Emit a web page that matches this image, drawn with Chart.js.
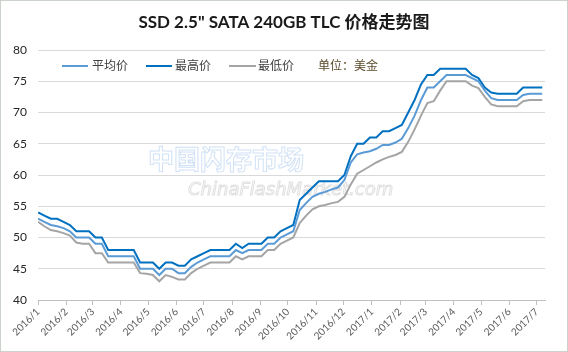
<!DOCTYPE html>
<html><head><meta charset="utf-8">
<script src="https://cdn.jsdelivr.net/npm/chart.js@4.4.1/dist/chart.umd.min.js"></script>
<style>
html,body{margin:0;padding:0;background:#fff;}
canvas{display:block;}
</style></head><body>
<canvas id="c" width="568" height="352"></canvas>
<script>
const titleText = 'SSD 2.5" SATA 240GB TLC 价格走势图';
const seriesNames = ['平均价', '最高价', '最低价'];
const unitText = '单位：美金';
const monthLabels = ['2016/1','2016/2','2016/3','2016/4','2016/5','2016/6','2016/7','2016/8','2016/9','2016/10','2016/11','2016/12','2017/1','2017/2','2017/3','2017/4','2017/5','2017/6','2017/7'];
const monthDays = [0,31,60,91,121,152,182,213,244,274,305,335,366,397,425,456,486,517,547];
const yTicks = [40,45,50,55,60,65,70,75,80];

const avgPrice = [53,52.5,52,51.8,51.5,51,50,50,50,49,49,47,47,47,47,47,45,45,45,44,45,45,44.3,44.3,45.3,46,46.5,47,47,47,47,48,47.5,48,48,48,49,49,50,50.5,51,54.4,55.5,56.5,57,57.3,57.7,58,59.2,62,63.3,63.6,63.8,64.2,64.8,64.8,65.2,65.8,67.5,69.5,72,74,74,75,76,76,76,76,75.5,75,73.5,72.3,72,72,72,72,72.8,73,73,73];
const maxPrice = [54,53.5,53,53,52.5,52,51,51,51,50,50,48,48,48,48,48,46,46,46,45,46,46,45.5,45.5,46.5,47,47.5,48,48,48,48,49,48.3,49,49,49,50,50,51,51.5,52,56,57,58,59,59,59,59,60,63,65,65,66,66,67,67,67.5,68,70,72,74.5,76,76,77,77,77,77,77,76,75.5,74,73.2,73,73,73,73,74,74,74,74];
const minPrice = [52.5,51.8,51.2,51,50.7,50.3,49.2,49,49,47.5,47.5,46,46,46,46,46,44.3,44.2,44,43,44,43.7,43.3,43.3,44.3,45,45.5,46,46,46,46,47,46.5,47,47,47,48,48,49,49.5,50,52.3,53.5,54.5,55,55.2,55.5,55.7,56.5,58.5,60.2,60.8,61.4,62,62.5,62.9,63.2,63.7,65.3,67.3,69.5,71.5,71.8,73.5,75,75,75,75,74.3,73.9,72.5,71.3,71,71,71,71,71.8,72,72,72];
const weekDays = avgPrice.map((_, i) => i * 7);

const colors = ['#5B9BD5', '#0070C0', '#A5A5A5'];
const FONT = 'Lato, "Noto Sans CJK SC", sans-serif';

const toPts = arr => arr.map((v, i) => ({x: weekDays[i], y: v}));

const titlePlugin = {
  id: 'centerTitle',
  afterDraw(chart) {
    const ctx = chart.ctx;
    ctx.save();
    ctx.fillStyle = '#1A1A1A';
    ctx.font = 'bold 17px ' + FONT;
    ctx.textAlign = 'center';
    ctx.textBaseline = 'middle';
    ctx.fillText(titleText, chart.width / 2, 23);
    ctx.restore();
  }
};

const legendPlugin = {
  id: 'customLegend',
  afterDraw(chart) {
    const ctx = chart.ctx;
    const y = 66;
    const items = [
      {sx: 62, ex: 88, tx: 92},
      {sx: 146, ex: 172, tx: 175},
      {sx: 229, ex: 256, tx: 258}
    ];
    ctx.save();
    chart.data.datasets.forEach((ds, i) => {
      const it = items[i];
      ctx.strokeStyle = ds.borderColor;
      ctx.lineWidth = 2;
      ctx.beginPath();
      ctx.moveTo(it.sx, y);
      ctx.lineTo(it.ex, y);
      ctx.stroke();
      ctx.fillStyle = '#404040';
      ctx.font = '12px ' + FONT;
      ctx.textBaseline = 'middle';
      ctx.textAlign = 'left';
      ctx.fillText(ds.label, it.tx, y);
    });
    ctx.fillStyle = '#5A4A2A';
    ctx.fillText(unitText, 318, y);
    ctx.restore();
  }
};

const watermarkPlugin = {
  id: 'watermark',
  beforeDatasetsDraw(chart) {
    const ctx = chart.ctx;
    ctx.save();
    ctx.font = 'bold 26px "Noto Sans CJK SC", sans-serif';
    ctx.textBaseline = 'middle';
    ctx.textAlign = 'left';
    ctx.strokeStyle = 'rgba(120,170,225,0.35)';
    ctx.lineWidth = 1;
    ctx.strokeText('中国闪存市场', 148, 159);
    ctx.font = 'italic 18px "DejaVu Sans", sans-serif';
    ctx.strokeStyle = 'rgba(150,150,150,0.3)';
    ctx.strokeText('ChinaFlashMarket.com', 188, 190);
    ctx.restore();
  }
};

const borderPlugin = {
  id: 'frame',
  afterDraw(chart) {
    const ctx = chart.ctx;
    ctx.save();
    ctx.strokeStyle = '#CBD2CB';
    ctx.lineWidth = 1;
    ctx.strokeRect(0.5, 0.5, chart.width - 1, chart.height - 1);
    ctx.restore();
  }
};

new Chart(document.getElementById('c'), {
  type: 'line',
  data: {
    datasets: [
      {label: seriesNames[0], data: toPts(avgPrice), borderColor: colors[0], borderWidth: 2, pointRadius: 0, tension: 0, fill: false},
      {label: seriesNames[1], data: toPts(maxPrice), borderColor: colors[1], borderWidth: 2, pointRadius: 0, tension: 0, fill: false},
      {label: seriesNames[2], data: toPts(minPrice), borderColor: colors[2], borderWidth: 2, pointRadius: 0, tension: 0, fill: false}
    ]
  },
  options: {
    responsive: false,
    animation: false,
    layout: {padding: {top: 50, left: 0, right: 23, bottom: 0}},
    plugins: {
      legend: {display: false},
      tooltip: {enabled: false},
      title: {display: false}
    },
    scales: {
      x: {
        type: 'linear', min: 0, max: 556,
        afterFit(s) { s.height = 52; },
        afterBuildTicks(s) { s.ticks = monthDays.map(v => ({value: v})); },
        ticks: {
          autoSkip: false, maxRotation: 45, minRotation: 45,
          color: '#595959', font: {family: FONT, size: 10}, padding: 1,
          callback(v, i) { return monthLabels[i]; }
        },
        grid: {drawOnChartArea: false, drawTicks: true, tickLength: 5, color: '#BFBFBF'},
        border: {color: '#BFBFBF'}
      },
      y: {
        min: 40, max: 80,
        afterFit(s) { s.width = 38; },
        afterBuildTicks(s) { s.ticks = yTicks.map(v => ({value: v})); },
        ticks: {color: '#262626', font: {family: FONT, size: 12}, padding: 11},
        grid: {color: '#D9D9D9', drawTicks: false},
        border: {display: false}
      }
    }
  },
  plugins: [watermarkPlugin, legendPlugin, titlePlugin, borderPlugin]
});
</script>
</body></html>
